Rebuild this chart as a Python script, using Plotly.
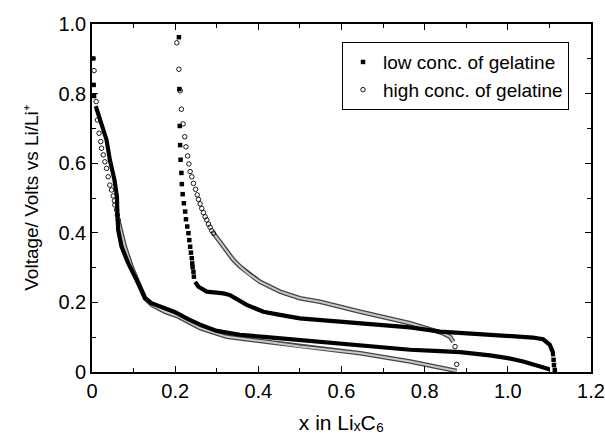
import plotly.graph_objects as go

# ---------------- data ----------------
# low concentration of gelatine (filled squares)
low_dis_sparse_x = [0.003, 0.004, 0.005]
low_dis_sparse_v = [0.901, 0.825, 0.793]
low_dis_x = [0.009, 0.020, 0.030, 0.035, 0.039, 0.043, 0.054, 0.060, 0.061, 0.063, 0.071, 0.087,
             0.111, 0.128, 0.143, 0.176, 0.200, 0.231, 0.260, 0.300, 0.356, 0.420, 0.500, 0.548,
             0.645, 0.765, 0.837, 0.885, 0.957, 1.000, 1.037, 1.077, 1.100]
low_dis_v = [0.764, 0.725, 0.690, 0.667, 0.638, 0.609, 0.552, 0.504, 0.457, 0.408, 0.360, 0.313,
             0.255, 0.212, 0.198, 0.184, 0.172, 0.152, 0.136, 0.118, 0.107, 0.100, 0.092, 0.087,
             0.075, 0.064, 0.060, 0.057, 0.048, 0.040, 0.030, 0.016, 0.008]
low_end_x = [1.113, 1.111, 1.110]
low_end_v = [0.006, 0.020, 0.035]
low_chg_x = [1.109, 1.108, 1.101, 1.085, 1.060, 1.037, 0.917, 0.837, 0.765, 0.645, 0.548, 0.500,
             0.452, 0.412, 0.372, 0.340, 0.332, 0.316, 0.276, 0.256, 0.248]
low_chg_v = [0.045, 0.058, 0.078, 0.094, 0.099, 0.101, 0.109, 0.116, 0.128, 0.141, 0.149, 0.154,
             0.164, 0.173, 0.193, 0.214, 0.221, 0.226, 0.231, 0.245, 0.259]
low_chg_sparse_x = [0.245, 0.244, 0.242, 0.241, 0.240, 0.238, 0.236, 0.234, 0.232, 0.229, 0.226,
                    0.224, 0.221, 0.218, 0.216, 0.215, 0.213, 0.212, 0.211, 0.210, 0.209]
low_chg_sparse_v = [0.274, 0.288, 0.301, 0.312, 0.327, 0.343, 0.360, 0.379, 0.399, 0.418, 0.439,
                    0.461, 0.485, 0.511, 0.540, 0.572, 0.610, 0.652, 0.707, 0.813, 0.962]

# high concentration of gelatine (open circles)
high_dis_sparse_x = [0.005, 0.010, 0.013, 0.017, 0.021, 0.023, 0.027, 0.031, 0.035, 0.039, 0.043,
                     0.047, 0.051, 0.054, 0.055, 0.059, 0.061, 0.063]
high_dis_sparse_v = [0.866, 0.777, 0.724, 0.686, 0.662, 0.643, 0.624, 0.604, 0.585, 0.561, 0.537,
                     0.523, 0.506, 0.492, 0.480, 0.466, 0.451, 0.437]
high_dis_x = [0.063, 0.067, 0.079, 0.095, 0.111, 0.127, 0.144, 0.176, 0.208, 0.260, 0.324, 0.420,
              0.500, 0.645, 0.765, 0.845, 0.877]
high_dis_v = [0.437, 0.418, 0.360, 0.303, 0.255, 0.212, 0.193, 0.173, 0.159, 0.126, 0.101, 0.087,
              0.073, 0.054, 0.030, 0.011, 0.003]
high_end_x = [0.877, 0.873]
high_end_v = [0.022, 0.073]
high_chg_x = [0.869, 0.861, 0.845, 0.805, 0.765, 0.645, 0.548, 0.500, 0.452, 0.404, 0.380, 0.356,
              0.340, 0.316, 0.292]
high_chg_v = [0.087, 0.101, 0.111, 0.126, 0.140, 0.173, 0.202, 0.212, 0.231, 0.259, 0.279, 0.303,
              0.322, 0.360, 0.399]
high_chg_sparse_x = [0.292, 0.288, 0.284, 0.280, 0.276, 0.272, 0.268, 0.264, 0.260, 0.256, 0.253,
                     0.249, 0.244, 0.240, 0.236, 0.233, 0.230, 0.226, 0.223, 0.219, 0.215, 0.212,
                     0.209, 0.204]
high_chg_sparse_v = [0.399, 0.406, 0.416, 0.425, 0.437, 0.446, 0.458, 0.470, 0.483, 0.496, 0.509,
                     0.525, 0.542, 0.561, 0.576, 0.598, 0.621, 0.647, 0.676, 0.713, 0.755, 0.808,
                     0.870, 0.946]

x_range = [0, 1.2]
y_range = [0, 1.0]
major_step = 0.2
minor_step = 0.1
tick_alias = {"0.0": "0"}

FONT = "Arial"

fig = go.Figure()

sq = dict(symbol="square", size=4.5, color="black")
circ = dict(symbol="circle-open", size=4.5, color="black", line=dict(width=0.9))

# ---- high conc (open circles): dense parts drawn as a grey band ----
for xs, vs in [(high_dis_x, high_dis_v), (high_chg_x, high_chg_v)]:
    fig.add_trace(go.Scatter(x=xs, y=vs, mode="lines", line=dict(color="#444444", width=4.6),
                             showlegend=False))
    fig.add_trace(go.Scatter(x=xs, y=vs, mode="lines", line=dict(color="#c8c8c8", width=2),
                             showlegend=False))

# ---- low conc (filled squares): dense parts drawn as thick line ----
for xs, vs in [(low_dis_x, low_dis_v), (low_chg_x, low_chg_v)]:
    fig.add_trace(go.Scatter(x=xs, y=vs, mode="lines", line=dict(color="black", width=4.2),
                             showlegend=False))

# sparse marker parts (first of each series carries the legend entry)
fig.add_trace(go.Scatter(x=low_chg_sparse_x, y=low_chg_sparse_v, mode="markers", marker=sq,
                         name="low conc. of gelatine", showlegend=True))
fig.add_trace(go.Scatter(x=high_chg_sparse_x, y=high_chg_sparse_v, mode="markers", marker=circ,
                         name="high conc. of gelatine", showlegend=True))
for xs, vs in [(low_dis_sparse_x, low_dis_sparse_v), (low_end_x, low_end_v)]:
    fig.add_trace(go.Scatter(x=xs, y=vs, mode="markers", marker=sq, showlegend=False))
for xs, vs in [(high_dis_sparse_x, high_dis_sparse_v), (high_end_x, high_end_v)]:
    fig.add_trace(go.Scatter(x=xs, y=vs, mode="markers", marker=circ, showlegend=False))

base = dict(showline=True, linecolor="black", linewidth=1.6, mirror="allticks",
            ticks="inside", ticklen=6, tickwidth=1.4, tickcolor="black", automargin=False,
            minor=dict(ticks="inside", ticklen=4, tickcolor="black", dtick=minor_step))

fig.update_xaxes(range=x_range, tick0=0, dtick=major_step, tickformat=".1f",
                 labelalias=tick_alias, tickfont=dict(family=FONT, size=20, color="black"),
                 title=dict(text="x in Li\u2093C\u2086",
                            font=dict(family=FONT, size=21, color="black")),
                 **base)
fig.update_yaxes(range=y_range, tick0=0, dtick=major_step, tickformat=".1f",
                 labelalias=tick_alias, tickfont=dict(family=FONT, size=20, color="black"),
                 title=dict(text="Voltage/ Volts vs Li/Li\u207a",
                            font=dict(family=FONT, size=19, color="black")),
                 **base)

fig.update_layout(
    width=605, height=437,
    margin=dict(l=92, r=14, t=24, b=65),
    paper_bgcolor="white", plot_bgcolor="white",
    legend=dict(x=0.956, xanchor="right", y=0.948, yanchor="top",
                bgcolor="white", bordercolor="black", borderwidth=1,
                font=dict(family=FONT, size=19, color="black")),
)

fig.write_html("out.html")
